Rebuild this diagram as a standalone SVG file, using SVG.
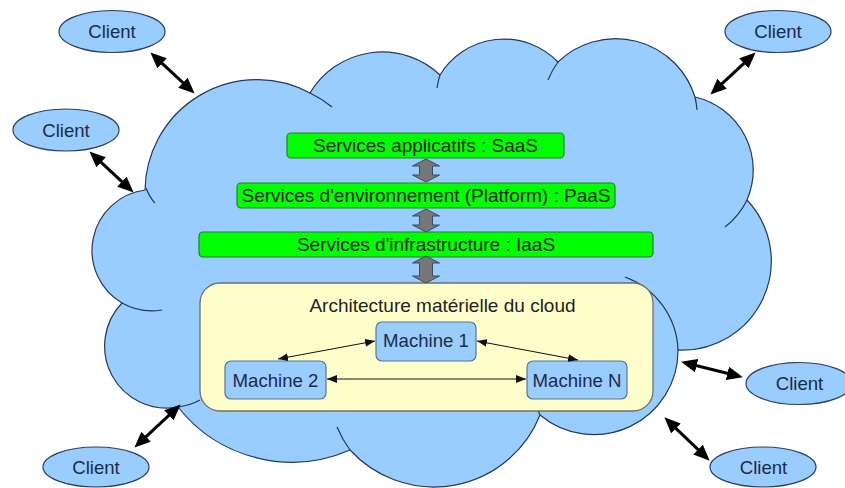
<svg xmlns="http://www.w3.org/2000/svg" width="845" height="488" viewBox="0 0 845 488">
<defs>
<style>
.cloud{fill:#99ccff;stroke:#23395a;stroke-width:1.2}
.tail{fill:none;stroke:#23395a;stroke-width:1.2}
.client{fill:#99ccff;stroke:#2a3f5f;stroke-width:1.2}
.ctext{font-family:"Liberation Sans",Arial,sans-serif;font-size:18.6px;fill:#1c2b47;text-anchor:middle}
.svc{fill:#00ff00;stroke:#2f7a2f;stroke-width:1.2}
.stext{font-family:"Liberation Sans",Arial,sans-serif;font-size:19px;fill:#152515;text-anchor:middle}
.arch{fill:#ffffcc;stroke:#6f7068;stroke-width:1.3}
.atext{font-family:"Liberation Sans",Arial,sans-serif;font-size:19px;fill:#222;text-anchor:middle}
.mach{fill:#99ccff;stroke:#5a7592;stroke-width:1.2}
.mtext{font-family:"Liberation Sans",Arial,sans-serif;font-size:18.6px;fill:#1c2b47;text-anchor:middle}
.big{stroke:#000;stroke-width:3;fill:none;marker-start:url(#bigHead);marker-end:url(#bigHead)}
.thin{stroke:#111;stroke-width:1;fill:none;marker-start:url(#smallHead);marker-end:url(#smallHead)}
.gray{fill:#777777;stroke:#3a4a6a;stroke-width:1}
</style>
<marker id="bigHead" markerUnits="userSpaceOnUse" markerWidth="16" markerHeight="14" refX="8" refY="6" orient="auto-start-reverse" viewBox="0 0 14 12">
<path d="M0,0 L14,6 L0,12 Z" fill="#000"/>
</marker>
<marker id="smallHead" markerUnits="userSpaceOnUse" markerWidth="10" markerHeight="8" refX="9" refY="3.5" orient="auto-start-reverse" viewBox="0 0 9 7">
<path d="M0,0 L9,3.5 L0,7 Z" fill="#111"/>
</marker>
</defs>

<g id="cloud">
<path class="cloud" d="M145,190 A112,112 0 0 1 310,93 A84,84 0 0 1 440,75 A75,75 0 0 1 558,62 A83,83 0 0 1 695,97 A75,75 0 0 1 747,200 A89,89 0 0 1 678,350 A84,84 0 0 1 540,415 A114,114 0 0 1 350,450 A145,145 0 0 1 178,407 A62,62 0 0 1 122,303 A61,61 0 0 1 145,190 Z"/>
<path class="tail" d="M310,93 A112,112 0 0 1 332,107"/>
<path class="tail" d="M440,75 A75,75 0 0 0 437,88"/>
<path class="tail" d="M558,62 A83,83 0 0 0 548,80"/>
<path class="tail" d="M695,97 A83,83 0 0 1 697,110"/>
<path class="tail" d="M747,200 A75,75 0 0 1 725,227"/>
<path class="tail" d="M678,350 A81,81 0 0 0 625,277"/>
<path class="tail" d="M540,415 A84,84 0 0 1 536,405"/>
<path class="tail" d="M350,450 A114,114 0 0 1 337,427"/>
<path class="tail" d="M178,407 A62,62 0 0 0 200,400"/>
<path class="tail" d="M122,303 A61,61 0 0 0 162,310"/>
<path class="tail" d="M146,188 Q150,198 155,203"/>
</g>

<g id="saas">
<rect class="svc" x="287" y="133" width="277" height="25" rx="4"/>
<text class="stext" x="425.5" y="152">Services applicatifs : SaaS</text>
</g>
<g id="paas">
<rect class="svc" x="237" y="183" width="378" height="25" rx="4"/>
<text class="stext" x="426" y="202">Services d'environnement (Platform) : PaaS</text>
</g>
<g id="iaas">
<rect class="svc" x="199" y="232" width="454" height="25" rx="4"/>
<text class="stext" x="426" y="251">Services d'infrastructure : IaaS</text>
</g>

<g id="architecture">
<rect class="arch" x="200" y="283" width="453" height="128" rx="20"/>
<text class="atext" x="442.5" y="312">Architecture matérielle du cloud</text>
</g>
<g id="machine1">
<rect class="mach" x="376" y="322" width="100" height="39" rx="6"/>
<text class="mtext" x="426" y="347">Machine 1</text>
</g>
<g id="machine2">
<rect class="mach" x="225" y="361" width="101" height="38" rx="6"/>
<text class="mtext" x="275.5" y="387">Machine 2</text>
</g>
<g id="machineN">
<rect class="mach" x="527" y="361" width="100" height="38" rx="6"/>
<text class="mtext" x="577" y="387">Machine N</text>
</g>

<g id="client1"><ellipse class="client" cx="112" cy="31.5" rx="53" ry="21"/><text class="ctext" x="112" y="38">Client</text></g>
<g id="client2"><ellipse class="client" cx="66" cy="130" rx="53" ry="21"/><text class="ctext" x="66" y="136.5">Client</text></g>
<g id="client3"><ellipse class="client" cx="778" cy="31.5" rx="53" ry="21"/><text class="ctext" x="778" y="38">Client</text></g>
<g id="client4"><ellipse class="client" cx="799" cy="383.5" rx="53" ry="21"/><text class="ctext" x="799.5" y="390">Client</text></g>
<g id="client5"><ellipse class="client" cx="96" cy="467" rx="53" ry="20"/><text class="ctext" x="96" y="473.5">Client</text></g>
<g id="client6"><ellipse class="client" cx="763" cy="467" rx="53" ry="20"/><text class="ctext" x="763.5" y="473.5">Client</text></g>

<g id="connectors">
<polygon class="gray" points="426,159 439.5,166 432.5,166 432.5,175 439.5,175 426,182 412.5,175 419.5,175 419.5,166 412.5,166"/>
<polygon class="gray" points="426,209 439.5,216 432.5,216 432.5,225 439.5,225 426,232 412.5,225 419.5,225 419.5,216 412.5,216"/>
<polygon class="gray" points="426,256 439.5,263 432.5,263 432.5,276 439.5,276 426,283 412.5,276 419.5,276 419.5,263 412.5,263"/>
<line class="thin" x1="375" y1="341" x2="278" y2="359"/>
<line class="thin" x1="477" y1="341" x2="578" y2="360"/>
<line class="thin" x1="327" y1="379" x2="526" y2="379"/>
<line class="big" x1="155.4" y1="57.1" x2="189.6" y2="88.9"/>
<line class="big" x1="94.4" y1="156.1" x2="128.6" y2="187.9"/>
<line class="big" x1="750.6" y1="57.1" x2="715.4" y2="89.9"/>
<line class="big" x1="687.8" y1="363.5" x2="736.2" y2="375.5"/>
<line class="big" x1="669.3" y1="422.1" x2="704.7" y2="455.9"/>
<line class="big" x1="175.6" y1="409.1" x2="139.4" y2="442.9"/>
</g>
</svg>
